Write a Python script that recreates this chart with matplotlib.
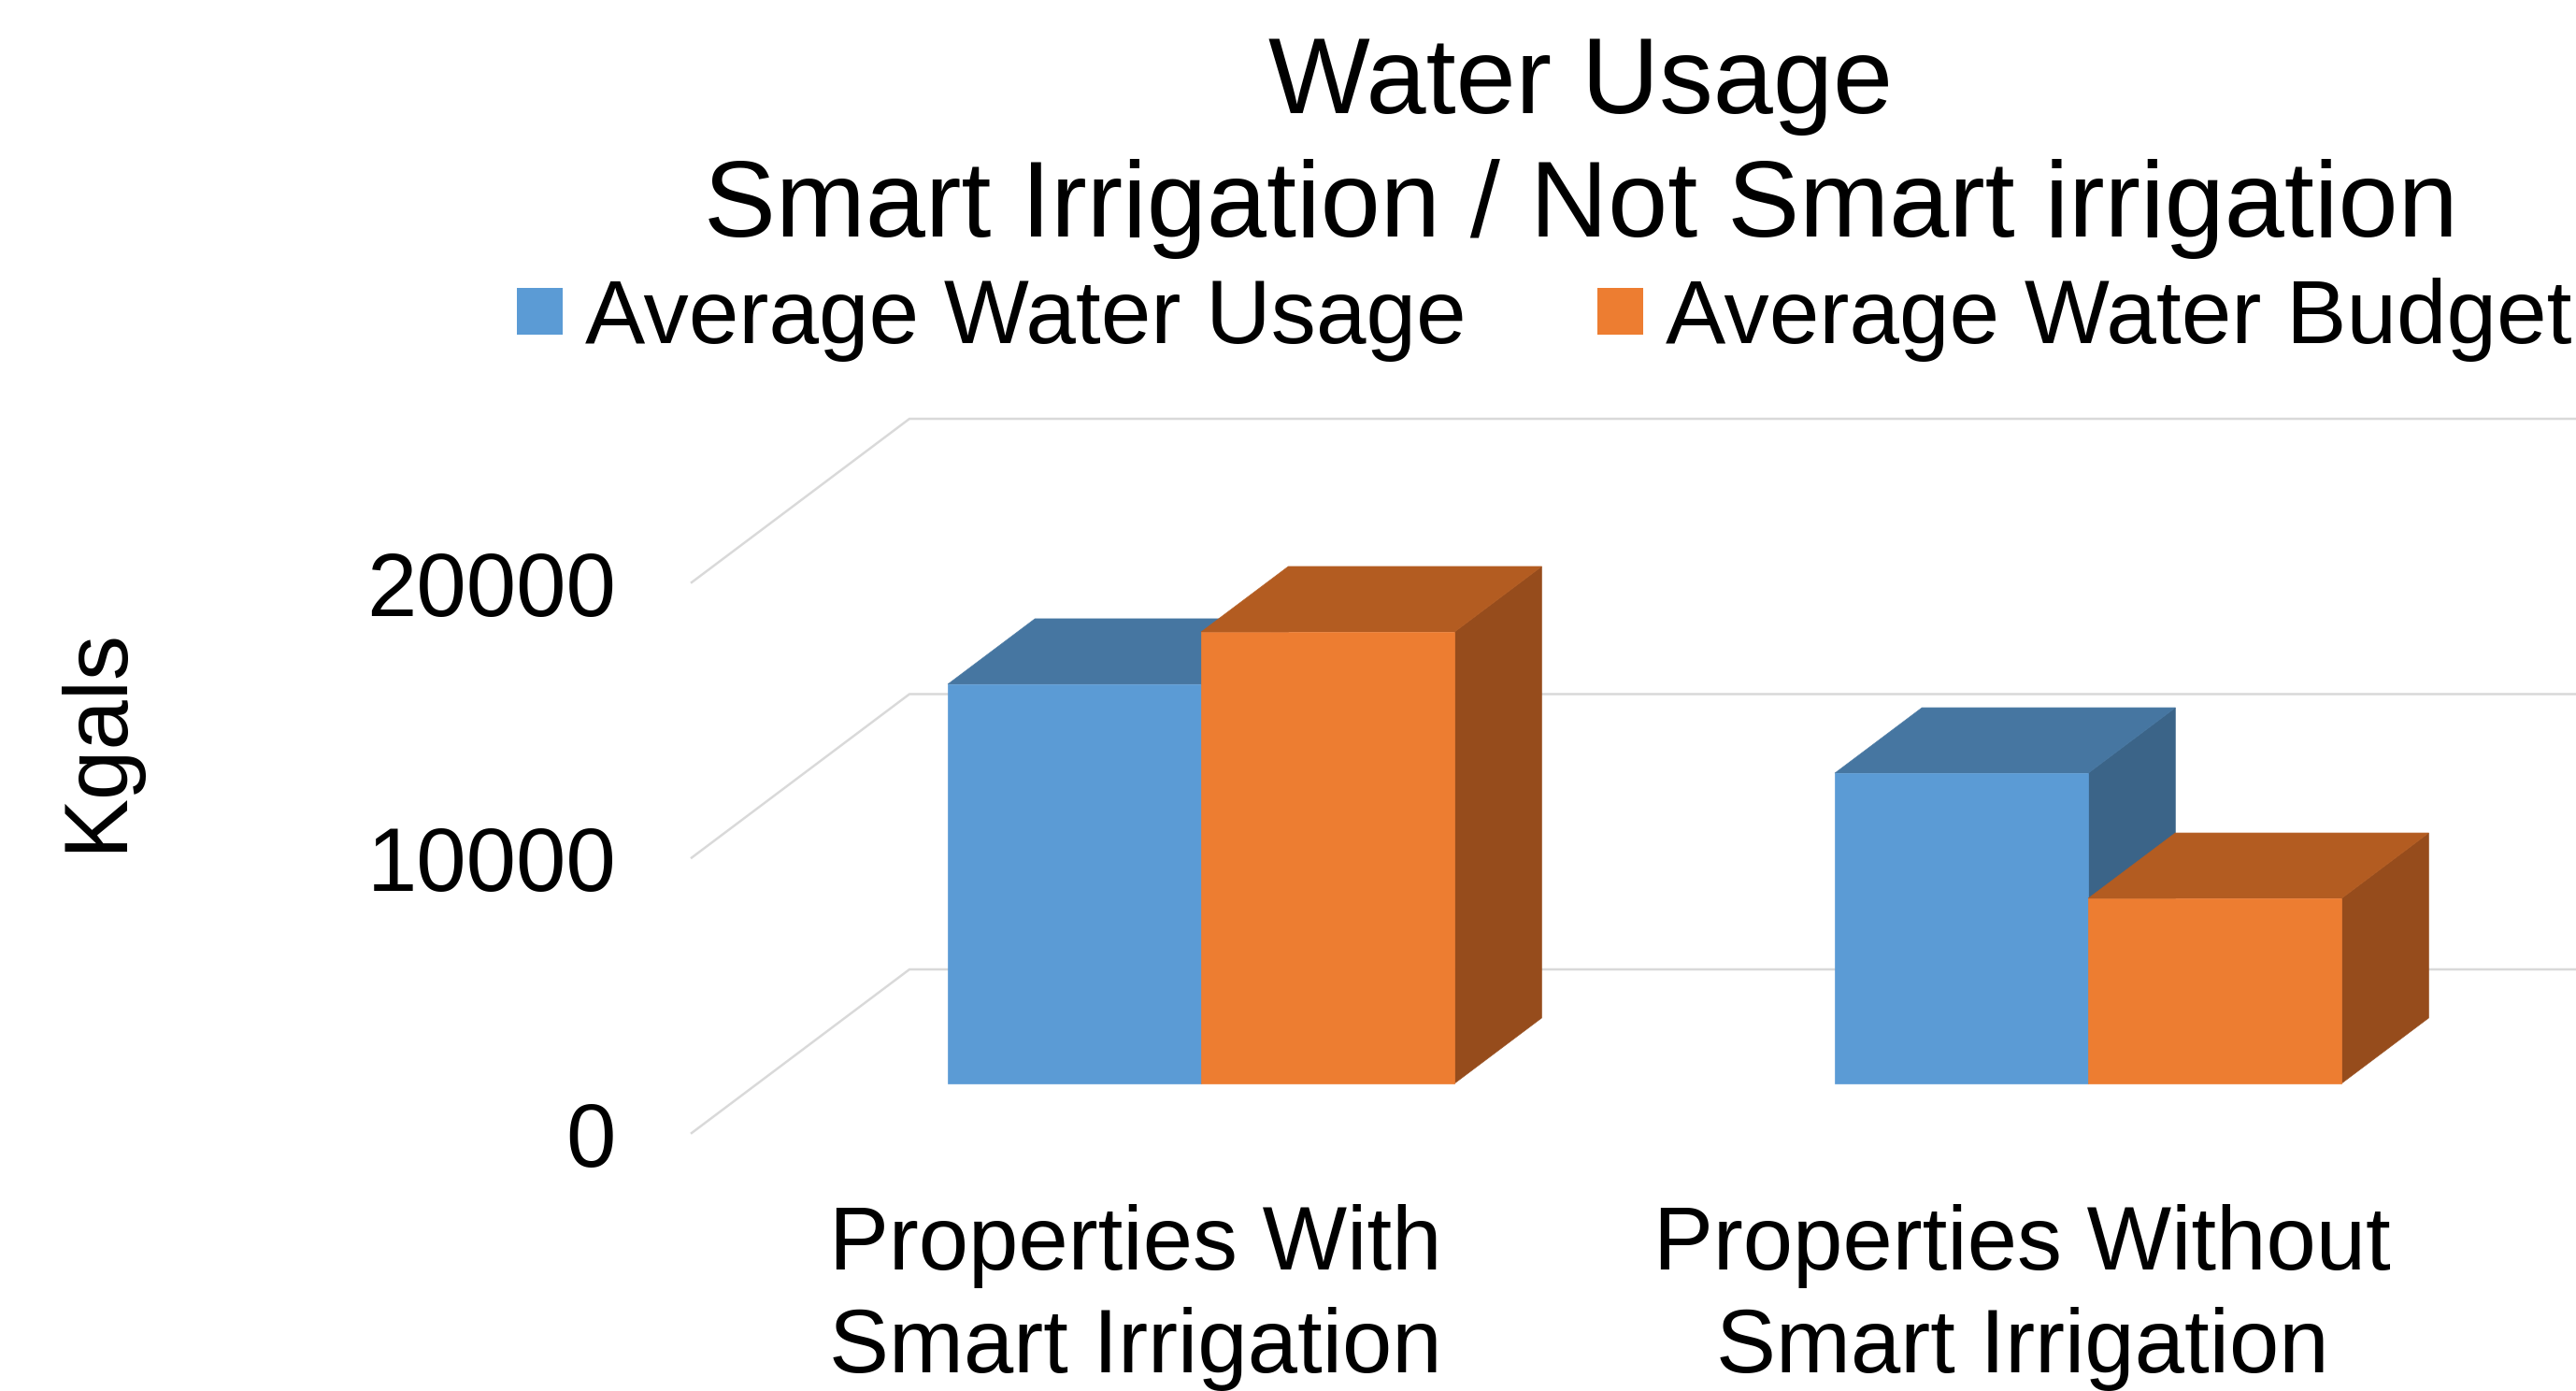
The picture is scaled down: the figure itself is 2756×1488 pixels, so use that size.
import matplotlib
matplotlib.use("Agg")
import matplotlib.pyplot as plt
from matplotlib.patches import Polygon, Patch
from matplotlib.transforms import blended_transform_factory

# ---- data ----
categories = ["Properties With\nSmart Irrigation", "Properties Without\nSmart Irrigation"]
usage = [14500, 11270]
budget = [16400, 6720]
series_names = ["Average Water Usage", "Average Water Budget"]
y_ticks = [0, 10000, 20000]
title = "Water Usage\nSmart Irrigation / Not Smart irrigation"
y_label = "Kgals"

# ---- style ----
W, H = 2756, 1488
DPI = 100
FS_TITLE = 83
FS = 69
FS_LEG = 69.4
PX_PER_CAT = 949.0
PX_PER_UNIT = 294.5 / 10000
CAT0_PX = 1214.5
ZERO_PY = 1212.0
DEPTH_X = 233 / PX_PER_CAT            # full floor depth, in category units
DEPTH_Y = 175 / PX_PER_UNIT           # full floor depth, in value units
BAR_W = 0.2856
D_FRONT, D_BACK = 0.303, 0.703
BLUE = ("#5B9BD5", "#4676A1", "#3B6488")
ORANGE = ("#ED7D31", "#B35C21", "#964C1C")
GRID = "#D9D9D9"

plt.rcParams["font.family"] = ["Liberation Sans", "DejaVu Sans"]
fig = plt.figure(figsize=(W / DPI, H / DPI), dpi=DPI, facecolor="white")
ax = fig.add_axes([0, 0, 1, 1])
ax.set_xlim((0 - CAT0_PX) / PX_PER_CAT, (W - CAT0_PX) / PX_PER_CAT)
ax.set_ylim((ZERO_PY - H) / PX_PER_UNIT, ZERO_PY / PX_PER_UNIT)
ax.axis("off")


def proj(x, v, d):
    return (x + d * DEPTH_X, v + d * DEPTH_Y)


# walls: side and back gridlines
left, right = -0.5, len(categories) - 0.5
for t in y_ticks:
    pts = [proj(left, t, 0), proj(left, t, 1), proj(right, t, 1)]
    ax.plot(*zip(*pts), color=GRID, lw=1.8, solid_joinstyle="miter", zorder=1)


def box(x0, x1, v, cols, z):
    front = [proj(x0, 0, D_FRONT), proj(x1, 0, D_FRONT), proj(x1, v, D_FRONT), proj(x0, v, D_FRONT)]
    top = [proj(x0, v, D_FRONT), proj(x1, v, D_FRONT), proj(x1, v, D_BACK), proj(x0, v, D_BACK)]
    side = [proj(x1, 0, D_FRONT), proj(x1, 0, D_BACK), proj(x1, v, D_BACK), proj(x1, v, D_FRONT)]
    for poly, c in ((side, cols[2]), (top, cols[1]), (front, cols[0])):
        ax.add_patch(Polygon(poly, closed=True, facecolor=c, edgecolor=c, lw=0.5, zorder=z))


for i, _ in enumerate(categories):
    box(i - BAR_W, i, usage[i], BLUE, 2 + i)
    box(i, i + BAR_W, budget[i], ORANGE, 2.5 + i)

# category labels
tx = blended_transform_factory(ax.transData, fig.transFigure)
for i, c in enumerate(categories):
    ax.text(i, 1 - 1468 / H, c, transform=tx, ha="center", va="baseline",
            fontsize=FS, color="black", linespacing=1.29, zorder=5)

# value labels
ty = blended_transform_factory(fig.transFigure, ax.transData)
for t in y_ticks:
    ax.annotate(str(t), xy=(659 / W, t), xycoords=ty, xytext=(0, -36),
                textcoords="offset pixels", ha="right", va="baseline",
                fontsize=FS, color="black")

fig.text(149 / W, 1 - 791 / H, y_label, rotation=90, ha="right", va="center",
         fontsize=FS, color="black")
fig.text(1691 / W, 1 - 253 / H, title, ha="center", va="baseline",
         fontsize=FS_TITLE, color="black", linespacing=1.30)

handles = [Patch(facecolor=BLUE[0]), Patch(facecolor=ORANGE[0])]
fig.legend(handles, series_names, loc="upper left",
           bbox_to_anchor=(553 / W, 1 - 297 / H), bbox_transform=fig.transFigure,
           ncol=2, frameon=False, fontsize=FS_LEG, borderpad=0, borderaxespad=0,
           handlelength=0.51, handleheight=0.42, handletextpad=0.25,
           columnspacing=1.45)

fig.savefig("out.png", dpi=DPI, facecolor="white")
